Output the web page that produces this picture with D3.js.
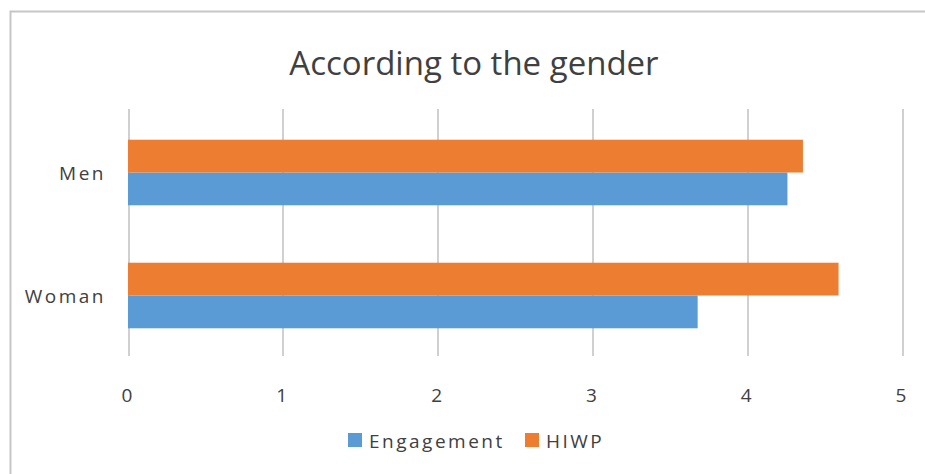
<!DOCTYPE html>
<html lang="en">
<head>
<meta charset="UTF-8">
<title>According to the gender</title>
<script src="https://cdn.jsdelivr.net/npm/d3@7"></script>
<style>
  body { margin: 0; background: #fff; }
  .grid line { stroke: #d0d0d0; stroke-width: 2px; shape-rendering: crispEdges; }
  .grid path { stroke-width: 0; }
  .lbl { font-family: "Open Sans", sans-serif; font-size: 19px; fill: #404040; letter-spacing: 2.5px; }
  .tk { font-family: "Open Sans", sans-serif; font-size: 19px; fill: #404040; }
  .title { font-family: "Open Sans", sans-serif; font-size: 33px; fill: #404040; }
</style>
</head>
<body>
<div id="chart"></div>
<script>
// data
var categories = ["Men", "Woman"];
var engagement = [4.26, 3.68];
var hiwp = [4.36, 4.59];
var xTicks = [0, 1, 2, 3, 4, 5];
var seriesNames = ["Engagement", "HIWP"];
var seriesColors = ["#5B9BD5", "#ED7D31"];

var width = 925, height = 474;

var svg = d3.select("#chart").append("svg")
    .attr("width", width)
    .attr("height", height);

// chart frame
svg.append("rect")
    .attr("x", 10.5).attr("y", 11.5)
    .attr("width", 1000).attr("height", 1000)
    .attr("fill", "#fff")
    .attr("stroke", "#c6c6c6")
    .attr("stroke-width", 2);

var x = d3.scaleLinear().domain([0, 5]).range([128, 902]);
var y = d3.scaleBand().domain(categories).range([111, 357])
    .paddingInner(0.467).paddingOuter(0.2335);
// HIWP drawn on top, Engagement below
var ySub = d3.scaleBand().domain(["HIWP", "Engagement"]).range([0, y.bandwidth()]);

// grid
svg.append("g")
    .attr("class", "grid")
    .attr("transform", "translate(0,356)")
    .call(d3.axisBottom(x).tickValues(xTicks).tickSize(-247).tickFormat(""));

// bars
var rows = categories.map(function(c, i) {
  return [
    {cat: c, s: "Engagement", v: engagement[i], color: seriesColors[0]},
    {cat: c, s: "HIWP", v: hiwp[i], color: seriesColors[1]}
  ];
});
svg.selectAll("g.cat")
  .data(rows)
  .enter().append("g")
    .attr("class", "cat")
  .selectAll("rect")
  .data(function(d) { return d; })
  .enter().append("rect")
    .attr("x", x(0))
    .attr("y", function(d) { return y(d.cat) + ySub(d.s); })
    .attr("width", function(d) { return x(d.v) - x(0); })
    .attr("height", ySub.bandwidth())
    .attr("fill", function(d) { return d.color; });

// category labels
svg.selectAll("text.cat")
  .data(categories)
  .enter().append("text")
    .attr("class", "lbl")
    .attr("x", 106)
    .attr("y", function(d) { return y(d) + y.bandwidth() / 2 + 7; })
    .attr("text-anchor", "end")
    .text(function(d) { return d; });

// x tick labels
svg.selectAll("text.tick")
  .data(xTicks)
  .enter().append("text")
    .attr("class", "tk")
    .attr("x", function(d) { return x(d) - 1; })
    .attr("y", 402)
    .attr("text-anchor", "middle")
    .text(function(d) { return d; });

// title
svg.append("text")
    .attr("class", "title")
    .attr("x", 474).attr("y", 75)
    .attr("text-anchor", "middle")
    .text("According to the gender");

// legend
var legendX = [348, 525];
var lg = svg.selectAll("g.legend")
  .data(seriesNames)
  .enter().append("g")
    .attr("transform", function(d, i) { return "translate(" + legendX[i] + ",433)"; });
lg.append("rect")
    .attr("width", 14).attr("height", 14)
    .attr("fill", function(d, i) { return seriesColors[i]; });
lg.append("text")
    .attr("class", "lbl")
    .attr("x", 21).attr("y", 15)
    .text(function(d) { return d; });
</script>
</body>
</html>
